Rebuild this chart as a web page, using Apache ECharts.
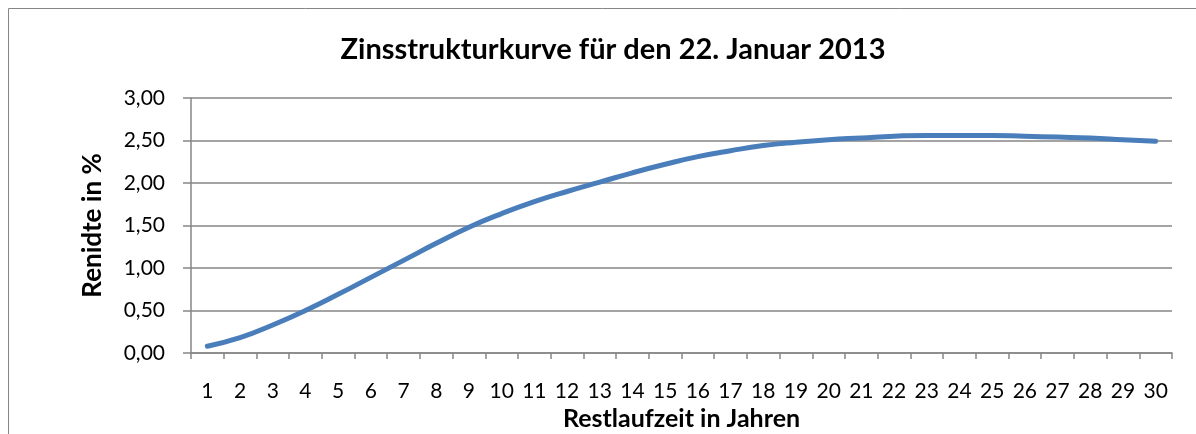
<!DOCTYPE html>
<html>
<head>
<meta charset="utf-8">
<script src="https://cdn.jsdelivr.net/npm/echarts@6/dist/echarts.min.js"></script>
<style>
  html, body { margin: 0; padding: 0; background: #fff; }
  #chart { width: 1196px; height: 434px; }
</style>
</head>
<body>
<div id="chart"></div>
<script>
// Restlaufzeit (Jahre) und Rendite in %
const years = ['1','2','3','4','5','6','7','8','9','10','11','12','13','14','15',
  '16','17','18','19','20','21','22','23','24','25','26','27','28','29','30']
const yields = [0.08, 0.18, 0.33, 0.50, 0.69, 0.89, 1.09, 1.29, 1.48, 1.64,
  1.78, 1.90, 2.01, 2.12, 2.22, 2.31, 2.38, 2.44, 2.48, 2.51,
  2.53, 2.55, 2.56, 2.56, 2.56, 2.55, 2.54, 2.53, 2.51, 2.49]

const font = 'Lato, "Open Sans", sans-serif'
const axisGrey = '#868686'

const chart = echarts.init(document.getElementById('chart'))
chart.setOption({
  animation: false,
  textStyle: { fontFamily: font },
  graphic: [{
    type: 'rect',
    shape: { x: 8.5, y: 8.5, width: 1200, height: 440 },
    style: { fill: 'none', stroke: axisGrey, lineWidth: 1 }
  }],
  title: {
    text: 'Zinsstrukturkurve für den 22. Januar 2013',
    left: 608, top: 30, textAlign: 'center',
    textStyle: { fontFamily: font, fontSize: 29, fontWeight: 'bold', color: '#000' }
  },
  grid: { left: 191, right: 24, top: 98, bottom: 81, containLabel: false, outerBoundsMode: 'none' },
  xAxis: {
    type: 'category',
    data: years,
    boundaryGap: true,
    name: 'Restlaufzeit in Jahren',
    nameLocation: 'middle',
    nameGap: 53,
    nameTextStyle: { fontFamily: font, fontSize: 25, fontWeight: 'bold', color: '#000' },
    axisLine: { lineStyle: { color: axisGrey, width: 1.5 } },
    axisTick: { show: true, length: 6, lineStyle: { color: axisGrey, width: 1.5 } },
    axisLabel: { interval: 0, margin: 28, fontFamily: font, fontSize: 21, color: '#000' }
  },
  yAxis: {
    type: 'value',
    min: 0, max: 3, interval: 0.5,
    name: 'Renidte in %',
    nameLocation: 'middle',
    nameGap: 85,
    nameTextStyle: { fontFamily: font, fontSize: 26, fontWeight: 'bold', color: '#000' },
    axisLine: { show: true, lineStyle: { color: axisGrey, width: 1.5 } },
    axisTick: { show: true, length: 8, lineStyle: { color: axisGrey, width: 1.5 } },
    splitLine: { lineStyle: { color: axisGrey, width: 1.5 } },
    axisLabel: {
      margin: 26, fontFamily: font, fontSize: 21, color: '#000',
      formatter: (v) => v.toFixed(2).replace('.', ',')
    }
  },
  series: [{
    type: 'line',
    data: yields,
    smooth: true,
    symbol: 'none',
    lineStyle: { color: '#4a7ebb', width: 5, cap: 'round' }
  }]
})
</script>
</body>
</html>
